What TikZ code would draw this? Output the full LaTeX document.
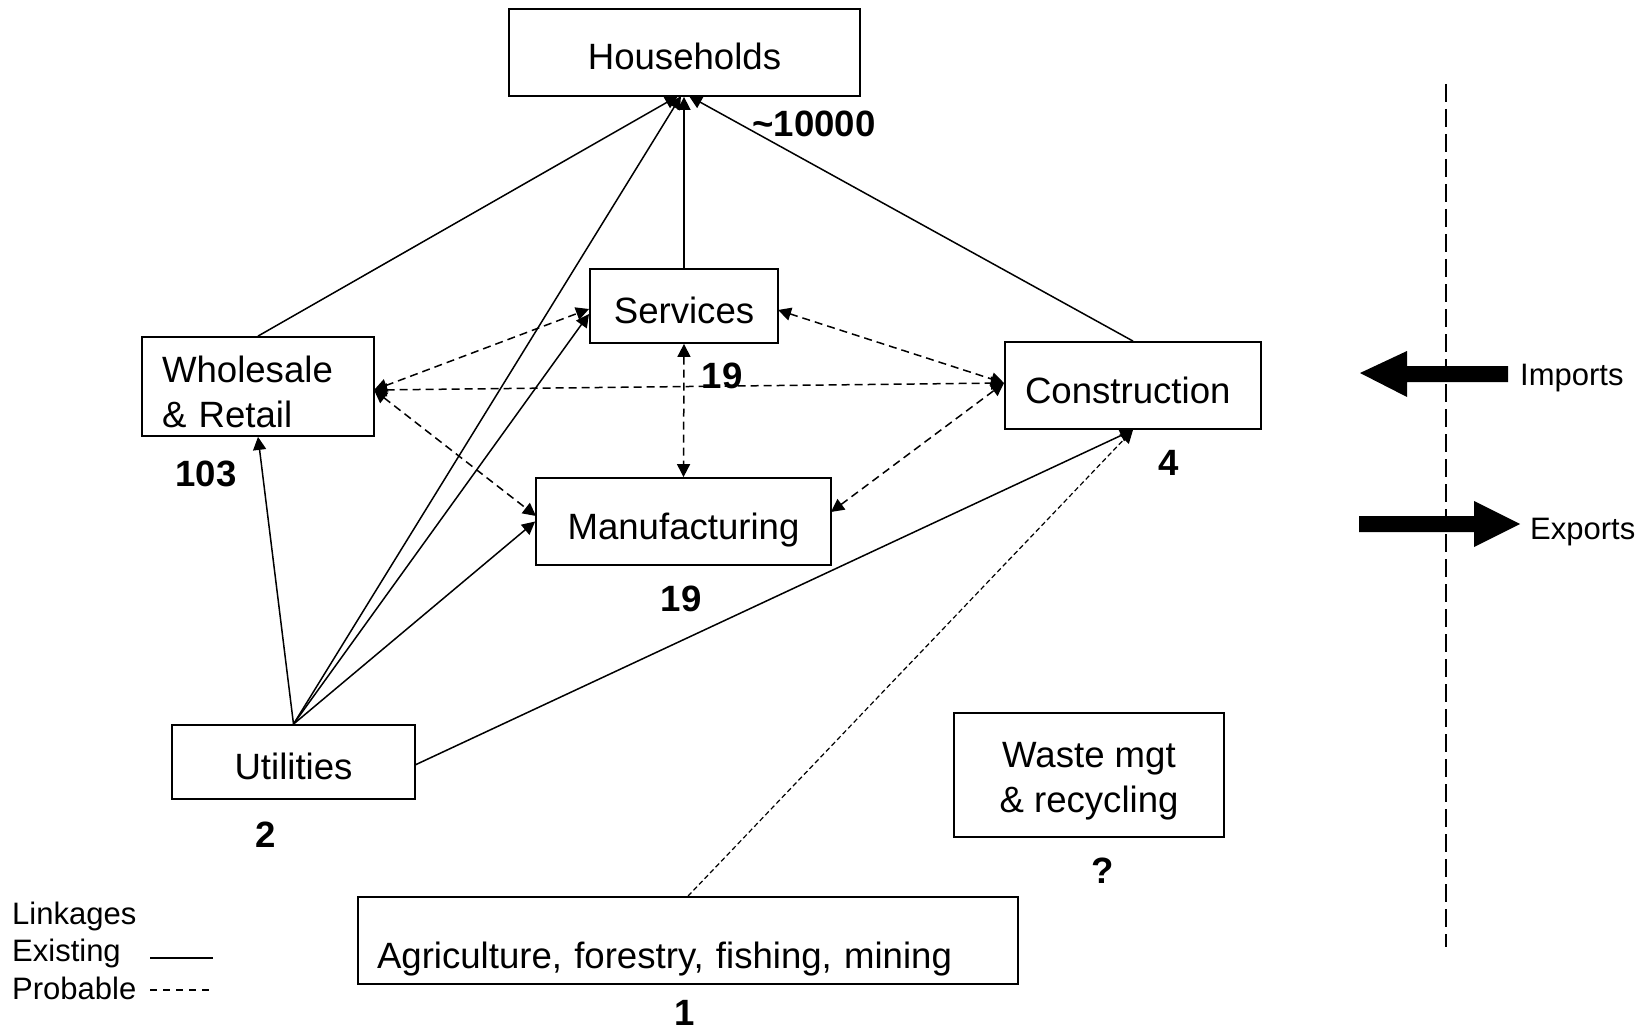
\documentclass[tikz,border=0pt]{standalone}
\usepackage{fontspec}
\setmainfont{Liberation Sans}
\usetikzlibrary{arrows.meta}
\begin{document}
\begin{tikzpicture}[x=1pt,y=-1pt,
  box/.style={draw, line width=1.8pt, inner sep=0pt, font=\fontsize{36.6}{45}\selectfont},
  oneline/.style={text height=35pt, text depth=0pt},
  num/.style={font=\fontsize{36.6}{44}\selectfont\bfseries, anchor=base, inner sep=0pt},
  small/.style={font=\fontsize{31}{37}\selectfont, anchor=base west, inner sep=0pt},
  tip/.tip={Triangle[length=13pt,width=13pt]},
  ex/.style={line width=1.5pt, -tip},
  pr/.style={line width=1.5pt, dash pattern=on 8pt off 5pt, tip-tip},
  prone/.style={line width=1.2pt, dash pattern=on 5pt off 3pt, -tip},
  divider/.style={line width=1.7pt, dash pattern=on 18pt off 7pt},
]
\useasboundingbox (0,0) rectangle (1640,1032);

% boxes
\node[box, oneline, minimum width=351, minimum height=87] (hh) at (684.5,52.5) {Households};
\node[box, oneline, minimum width=188, minimum height=74] (sv) at (684,306) {Services};
\node[box, minimum width=232, minimum height=99, text width=192, inner xsep=20pt, align=left] (ws) at (258,386.5) {\rule{0pt}{38pt}Wholesale\\\& Retail};
\node[box, oneline, minimum width=256, minimum height=87, text width=216, inner xsep=20pt, align=left] (cs) at (1133,385.5) {Construction};
\node[box, oneline, minimum width=295, minimum height=87] (mf) at (683.5,521.5) {Manufacturing};
\node[box, oneline, minimum width=243, minimum height=74] (ut) at (293.5,762) {Utilities};
\node[box, minimum width=270, minimum height=124, align=center] (wm) at (1089,775) {\rule{0pt}{38pt}Waste mgt\\\& recycling};
\node[box, minimum width=660, minimum height=87, text width=622, inner xsep=19pt, align=left, text height=55pt, text depth=0pt] (ag) at (688,940.5) {Agriculture, forestry, fishing, mining};

% numbers
\node[num] (nhh) at (814,137) {\textasciitilde10000};
\node[num] (nsv) at (722,388) {19};
\node[num] (nws) at (206,486) {103};
\node[num] (ncs) at (1169,475) {4};
\node[num] (nmf) at (681,611) {19};
\node[num] (nut) at (266,847) {2};
\node[num] (nwm) at (1103,883) {?};
\node[num] (nag) at (685,1025) {1};

% connection points
\coordinate (hhA) at (678,96);
\coordinate (hhB) at (681,96);
\coordinate (hhC) at (689,96);
\coordinate (svLd) at (589,309);
\coordinate (svLs) at (589,314);
\coordinate (svR) at (778,310);
\coordinate (wsR) at (374,390);
\coordinate (csL) at (1004,383);
\coordinate (mfLd) at (536,516);
\coordinate (mfR) at (831,512);
\coordinate (utR) at (415,765);

% existing linkages
\draw[ex] (ws.north) -- (hhA);
\draw[ex] (ut.north) -- (hhB);
\draw[ex] (sv.north) -- (sv.north |- hh.south);
\draw[ex] (cs.north) -- (hhC);
\draw[ex] (ut.north) -- (svLs);
\draw[ex] (ut.north) -- (mf.west);
\draw[ex] (ut.north) -- (ws.south);
\draw[ex] (utR) -- (cs.south);

% probable linkages
\draw[pr] (wsR) -- (svLd);
\draw[pr] (wsR) -- (csL);
\draw[pr] (wsR) -- (mfLd);
\draw[pr] (sv.south) -- (mf.north);
\draw[pr] (svR) -- (csL);
\draw[pr] (mfR) -- (csL);
\draw[prone] (ag.north) -- (cs.south);

% border and trade
\coordinate (dvT) at (1446,84);
\coordinate (dvB) at (1446,947);
\draw[divider] (dvT) -- (dvB);
\fill (1508,366) -- (1407,366) -- (1407,351) -- (1360,373) -- (1407,397) -- (1407,382) -- (1508,382) -- cycle;
\fill (1359,516) -- (1474,516) -- (1474,501) -- (1520,524) -- (1474,547) -- (1474,532) -- (1359,532) -- cycle;
\node[small] (imp) at (1520,385) {Imports};
\node[small] (exp) at (1530,539) {Exports};

% legend
\node[small] (lk) at (12,924) {Linkages};
\node[small] (lex) at (12,961) {Existing};
\node[small] (lpr) at (12,999) {Probable};
\coordinate (l1a) at (150,958);
\coordinate (l1b) at (213,958);
\coordinate (l2a) at (150,990);
\coordinate (l2b) at (213,990);
\draw[line width=1.5pt] (l1a) -- (l1b);
\draw[line width=1.3pt, dash pattern=on 7pt off 6pt] (l2a) -- (l2b);
\end{tikzpicture}
\end{document}
